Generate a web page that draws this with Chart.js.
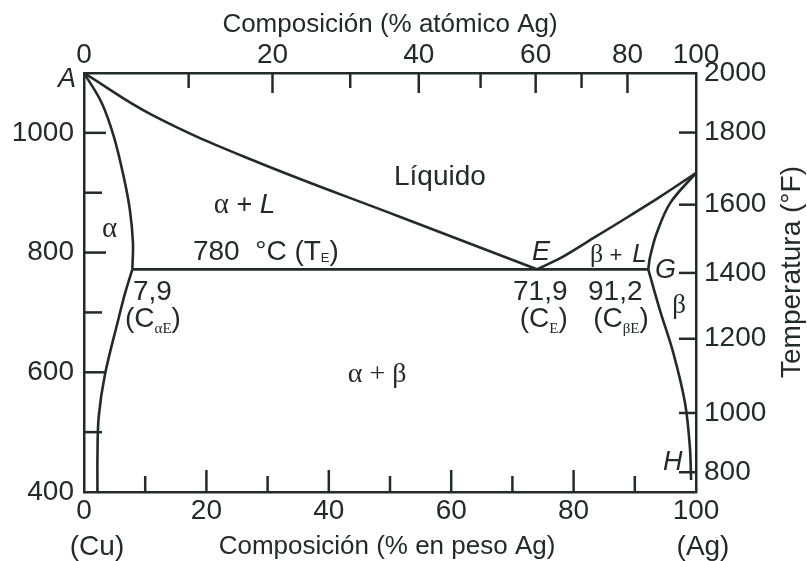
<!DOCTYPE html>
<html><head><meta charset="utf-8">
<script src="https://cdn.jsdelivr.net/npm/chart.js@4/dist/chart.umd.min.js"></script>
<style>html,body{margin:0;padding:0;background:#fff}canvas{display:block}</style>
</head><body>
<canvas id="c" width="807" height="561"></canvas>
<script>
// Cu-Ag phase diagram: x = wt% Ag, y = °C
const liquidusCu = [[0,1100],[11.1,1030],[27.4,955],[51.8,859],[74,772]];
const solidusAlpha = [[0,1100],[2.9,1050],[4.9,993],[6.5,926],[7.5,871],[8.0,816],[7.9,772]];
const solvusAlpha = [[7.9,772],[6.7,732],[5.7,692],[3.4,595],[2.4,525],[2.2,460],[2.2,400]];
const eutectic = [[7.9,772],[92.2,772]];
const liquidusAg = [[74,772],[77.9,791],[83.2,824],[88.8,859],[94.1,893],[100,933]];
const solidusBeta = [[100,933],[95.8,883],[93.6,833],[92.5,793],[92.2,772]];
const solvusBeta = [[92.2,772],[94.1,704],[96.3,632],[98.2,549],[99.0,475],[99.2,420]];

// bottom axis (wt%)
const wtTicks = [0,20,40,60,80,100];
const wtMinor = [10,30,50,70,90];
// top axis: atomic % labels and where they sit on the wt% scale
const atLabels = ['0','20','40','60','80','100'];
const atAtWt = [0,30.8,54.7,73.8,88.8,100];
const atMinorWt = [17.1,43.5,64.8,81.3];
// left axis °C
const cTicks = [400,600,800,1000];
const cMinor = [500,700,900];
// right axis °F labels and their °C positions
const fLabels = ['2000','1800','1600','1400','1200','1000','800'];
const fAtC = [1100,1000.5,880,766,656,532,433];

const INK = '#232b28';
const SANS = '"Liberation Sans", Arial, sans-serif';
const SERIF = '"Liberation Serif", "Times New Roman", serif';

// text labels inside the diagram: anchor (wt%, °C) is left/baseline
const notes = [
  {x:-4.25, y:1076.6, runs:[['A','italic 27px '+SANS,0]]},
  {x:50.65, y:912.9, runs:[['Líquido','28px '+SANS,0]]},
  {x:21.2, y:866.1, runs:[['α','29px '+SERIF,0],[' + ','27px '+SANS,0],['L','italic 28px '+SANS,0]]},
  {x:2.94, y:826, runs:[['α','29px '+SERIF,0]]},
  {x:17.8, y:787.6, runs:[['780  °C (T','28px '+SANS,0],['E','13px '+SANS,2],[')','28px '+SANS,0]]},
  {x:73.2, y:787.6, runs:[['E','italic 27px '+SANS,0]]},
  {x:82.7, y:784.2, runs:[['β','26px '+SERIF,0],[' + ','22px '+SANS,0],[' ','14px '+SANS,0],['L','italic 26px '+SANS,0]]},
  {x:93.3, y:757.5, runs:[['G','italic 27px '+SANS,0]]},
  {x:8.0, y:720.7, runs:[['7,9','28px '+SANS,0]]},
  {x:6.7, y:675.6, runs:[['(C','28px '+SANS,0],['αE','15px '+SERIF,6],[')','28px '+SANS,0]]},
  {x:70.1, y:720.7, runs:[['71,9','28px '+SANS,0]]},
  {x:71.2, y:675.6, runs:[['(C','28px '+SANS,0],['E','15px '+SERIF,6],[')','28px '+SANS,0]]},
  {x:82.35, y:720.7, runs:[['91,2','28px '+SANS,0]]},
  {x:83.2, y:675.6, runs:[['(C','28px '+SANS,0],['βE','15px '+SERIF,6],[')','28px '+SANS,0]]},
  {x:96.1, y:699, runs:[['β','27px '+SERIF,0]]},
  {x:43.1, y:583.8, runs:[['α + β','28px '+SERIF,0]]},
  {x:94.6, y:436.8, runs:[['H','italic 27px '+SANS,0]]}
];

function line(data, tension){
  return {
    data: data.map(p=>({x:p[0], y:p[1]})),
    showLine:true, borderColor:INK, borderWidth:2.6, pointRadius:0,
    tension: tension, fill:false, xAxisID:'x', yAxisID:'y'
  };
}

const marks = {
  id:'marks',
  afterDraw(chart){
    const ctx = chart.ctx, a = chart.chartArea;
    const sx = chart.scales.x, sy = chart.scales.y;
    ctx.save();
    ctx.strokeStyle = INK; ctx.lineWidth = 2.5; ctx.lineCap = 'butt';
    function tk(vals, side, len){
      vals.forEach(v=>{
        ctx.beginPath();
        if(side==='left'){ const p = sy.getPixelForValue(v); ctx.moveTo(a.left, p); ctx.lineTo(a.left+len, p); }
        if(side==='right'){ const p = sy.getPixelForValue(v); ctx.moveTo(a.right, p); ctx.lineTo(a.right-len, p); }
        if(side==='bottom'){ const p = sx.getPixelForValue(v); ctx.moveTo(p, a.bottom); ctx.lineTo(p, a.bottom-len); }
        if(side==='top'){ const p = sx.getPixelForValue(v); ctx.moveTo(p, a.top); ctx.lineTo(p, a.top+len); }
        ctx.stroke();
      });
    }
    tk(cTicks.slice(1), 'left', 22); tk(cMinor, 'left', 18);
    tk(wtTicks.slice(1,-1), 'bottom', 22); tk(wtMinor, 'bottom', 16);
    tk(atAtWt.slice(1,-1), 'top', 20); tk(atMinorWt, 'top', 15);
    tk(fAtC.slice(1), 'right', 17);

    // labels inside the plot
    ctx.fillStyle = INK; ctx.textBaseline = 'alphabetic'; ctx.textAlign = 'left';
    notes.forEach(n=>{
      let px = sx.getPixelForValue(n.x);
      const py = sy.getPixelForValue(n.y);
      n.runs.forEach(r=>{
        ctx.font = r[1];
        ctx.fillText(r[0], px, py + r[2]);
        px += ctx.measureText(r[0]).width;
      });
    });

    // element names under the ends of the bottom axis
    ctx.textAlign = 'center'; ctx.font = '28px ' + SANS;
    ctx.fillText('(Cu)', sx.getPixelForValue(0) + 13, 555);
    ctx.fillText('(Ag)', sx.getPixelForValue(100) + 7, 555);

    // axis titles
    ctx.font = '26px ' + SANS;
    ctx.fillText('Composición (% atómico Ag)', 390, 32);
    ctx.fillText('Composición (% en peso Ag)', 387, 554);
    ctx.save();
    ctx.translate(800, 272); ctx.rotate(-Math.PI/2);
    ctx.font = '28px ' + SANS;
    ctx.fillText('Temperatura (°F)', 0, 0);
    ctx.restore();
    ctx.restore();
  }
};

const tickFont = {family: SANS, size: 28};
const axisBorder = {display:true, color:INK, width:2.5};

new Chart(document.getElementById('c'), {
  type:'scatter',
  data:{ datasets:[
    line(liquidusCu, 0.4), line(solidusAlpha, 0.35), line(solvusAlpha, 0.35),
    line(eutectic, 0), line(liquidusAg, 0.3), line(solidusBeta, 0.35), line(solvusBeta, 0.35)
  ]},
  options:{
    responsive:false, devicePixelRatio:1, animation:false,
    layout:{padding:0},
    plugins:{legend:{display:false}, tooltip:{enabled:false}},
    scales:{
      x:{ type:'linear', position:'bottom', min:0, max:100,
        afterBuildTicks: s=>{ s.ticks = wtTicks.map(v=>({value:v})); },
        afterFit: s=>{ s.height = 69; },
        grid:{display:false, drawTicks:false}, border:axisBorder,
        ticks:{ font:tickFont, color:INK, padding:2, maxRotation:0, autoSkip:false,
          callback: v => String(v) } },
      x2:{ type:'linear', position:'top', min:0, max:100,
        afterBuildTicks: s=>{ s.ticks = atAtWt.map(v=>({value:v})); },
        afterFit: s=>{ s.height = 73; },
        grid:{display:false, drawTicks:false}, border:axisBorder,
        ticks:{ font:tickFont, color:INK, padding:1, maxRotation:0, autoSkip:false,
          callback: (v,i) => atLabels[i] } },
      y:{ type:'linear', position:'left', min:400, max:1100,
        afterBuildTicks: s=>{ s.ticks = cTicks.map(v=>({value:v})); },
        afterFit: s=>{ s.width = 84; },
        grid:{display:false, drawTicks:false}, border:axisBorder,
        ticks:{ font:tickFont, color:INK, padding:10, autoSkip:false, callback: v => String(v) } },
      y2:{ type:'linear', position:'right', min:400, max:1100,
        afterBuildTicks: s=>{ s.ticks = fAtC.map(v=>({value:v})); },
        afterFit: s=>{ s.width = 111; },
        grid:{display:false, drawTicks:false}, border:axisBorder,
        ticks:{ font:tickFont, color:INK, padding:8, autoSkip:false, callback: (v,i) => fLabels[i] } }
    }
  },
  plugins:[marks]
});
</script>
</body></html>
